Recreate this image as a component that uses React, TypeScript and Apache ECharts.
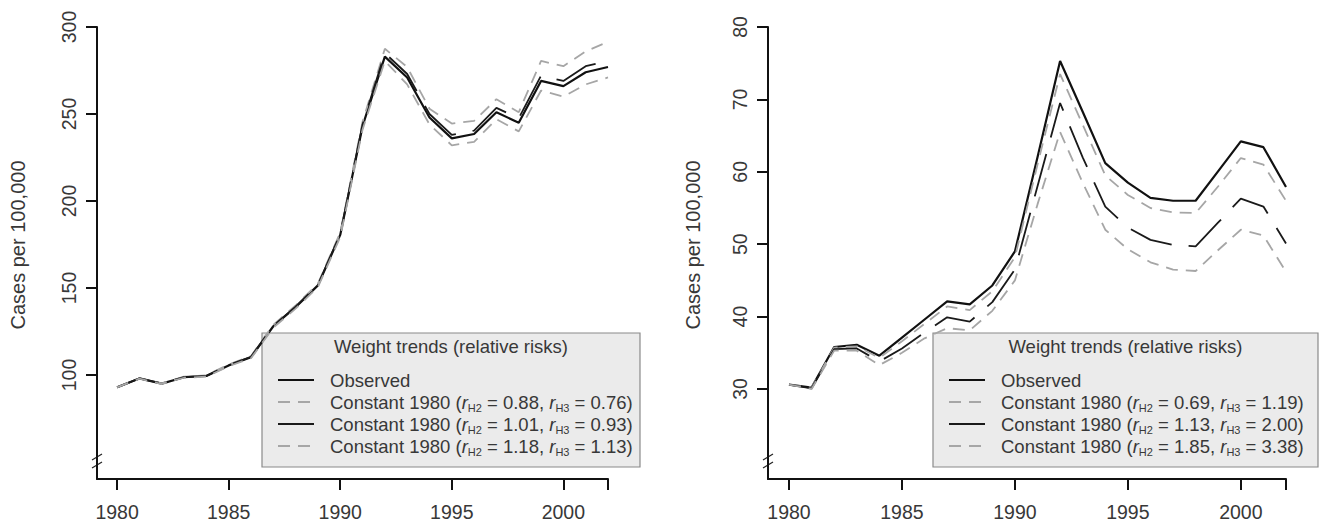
import React, { useEffect, useRef } from "react";
import * as echarts from "echarts";

const years = [1980, 1981, 1982, 1983, 1984, 1985, 1986, 1987, 1988, 1989, 1990, 1991, 1992, 1993, 1994, 1995, 1996, 1997, 1998, 1999, 2000, 2001, 2002];

// Left panel
const observedA = [92.9, 98.0, 95.0, 98.7, 99.4, 105.5, 110.2, 128.0, 139.0, 151.5, 180.5, 243.0, 283.0, 271.0, 248.0, 236.0, 238.5, 251.0, 245.0, 269.0, 266.0, 274.0, 277.0];
const constA1 = [92.9, 98.1, 95.2, 99.0, 99.8, 106.0, 110.8, 128.8, 139.9, 152.5, 181.8, 245.5, 287.5, 277.0, 253.0, 244.5, 246.0, 258.5, 251.0, 280.5, 277.5, 286.0, 291.5];
const constA2 = [92.9, 98.0, 95.1, 98.8, 99.5, 105.7, 110.4, 128.3, 139.3, 151.9, 181.0, 244.0, 285.0, 273.0, 250.0, 238.0, 240.5, 253.5, 247.5, 272.0, 269.0, 277.5, 280.5];
const constA3 = [92.9, 97.9, 94.8, 98.4, 99.0, 105.0, 109.6, 127.2, 138.1, 150.5, 179.2, 241.0, 280.5, 267.0, 244.0, 232.0, 234.0, 247.0, 240.0, 263.5, 260.0, 267.0, 271.0];

// Right panel
const observedB = [30.6, 30.2, 35.8, 36.1, 34.6, 37.1, 39.6, 42.1, 41.7, 44.3, 49.0, 62.0, 75.3, 68.3, 61.2, 58.5, 56.4, 56.0, 56.0, 60.1, 64.2, 63.4, 57.9];
const constB1 = [30.6, 30.2, 35.7, 35.9, 34.3, 36.6, 39.0, 41.4, 40.9, 43.5, 48.2, 61.0, 73.5, 66.5, 59.5, 56.8, 55.0, 54.4, 54.3, 58.0, 61.9, 61.0, 56.0];
const constB2 = [30.6, 30.1, 35.5, 35.6, 33.8, 35.6, 37.8, 39.9, 39.3, 42.0, 46.5, 58.0, 69.5, 62.0, 55.2, 52.3, 50.6, 49.9, 49.7, 53.0, 56.3, 55.2, 50.1];
const constB3 = [30.6, 30.0, 35.3, 35.3, 33.3, 35.0, 37.0, 38.4, 38.1, 40.8, 45.0, 55.5, 65.5, 58.5, 52.0, 49.3, 47.5, 46.5, 46.3, 49.2, 52.0, 51.2, 46.2];

const risksA = [["0.88", "0.76"], ["1.01", "0.93"], ["1.18", "1.13"]];
const risksB = [["0.69", "1.19"], ["1.13", "2.00"], ["1.85", "3.38"]];

const xTicks = [1980, 1985, 1990, 1995, 2000, 2002];
const xLabels = [1980, 1985, 1990, 1995, 2000];
const yTicksA = [100, 150, 200, 250, 300];
const yTicksB = [30, 40, 50, 60, 70, 80];

const legendTitle = "Weight trends (relative risks)";
const yName = "Cases per 100,000";

const FONT = "'Liberation Sans', Arial, Helvetica, sans-serif";
const GRAY = "#a6a6a6";
const TXT = "#383838";
const lineStyles = [
  { color: "#111111", width: 2.2, type: "solid" as any },
  { color: GRAY, width: 1.8, type: [12, 8] as any },
  { color: "#1a1a1a", width: 1.8, type: [44, 17] as any },
  { color: GRAY, width: 1.8, type: [12, 8] as any },
];

function pairs(vals: number[]) {
  return years.map((y, i) => [y, vals[i]]);
}

function entryText(r: string[]) {
  return `{t|Constant 1980 (}{i|r}{s|H2}{t| = ${r[0]}, }{i|r}{s|H3}{t| = ${r[1]})}`;
}

function legendGroup(boxX: number, boxW: number, risks: string[][]) {
  const boxY = 333;
  const boxH = 134;
  const children: any[] = [
    {
      type: "rect",
      shape: { x: boxX, y: boxY, width: boxW, height: boxH },
      style: { fill: "#ebebeb", stroke: "#8a8a8a", lineWidth: 1.2 },
    },
    {
      type: "text",
      x: boxX + boxW / 2,
      y: 346,
      style: {
        text: legendTitle,
        fontSize: 18.5,
        fontFamily: FONT,
        fill: TXT,
        align: "center",
        verticalAlign: "middle",
      },
    },
  ];
  const labels = ["{t|Observed}", ...risks.map(entryText)];
  labels.forEach((lab, i) => {
    const y = 380 + i * 22;
    const ls = lineStyles[i];
    children.push({
      type: "line",
      shape: { x1: boxX + 16, y1: y, x2: boxX + 52, y2: y },
      style: {
        stroke: ls.color,
        lineWidth: ls.width,
        lineDash: Array.isArray(ls.type) ? ls.type : null,
      },
    });
    children.push({
      type: "text",
      x: boxX + 68,
      y: y,
      style: {
        text: lab,
        fontFamily: FONT,
        fill: TXT,
        align: "left",
        verticalAlign: "middle",
        rich: {
          t: { fontSize: 18.5, fontFamily: FONT, fill: TXT, lineHeight: 22 },
          i: { fontSize: 18.5, fontFamily: FONT, fill: TXT, fontStyle: "italic", lineHeight: 22 },
          s: { fontSize: 11, fontFamily: FONT, fill: TXT, lineHeight: 13, verticalAlign: "bottom" },
        },
      },
    });
  });
  return { type: "group", z: 100, children };
}

function axisBreak(x: number) {
  return {
    type: "group",
    z: 100,
    children: [
      { type: "rect", shape: { x: x - 6, y: 457, width: 12, height: 8 }, style: { fill: "#fff" } },
      { type: "line", shape: { x1: x - 5, y1: 460, x2: x + 5, y2: 454 }, style: { stroke: "#222", lineWidth: 1.2 } },
      { type: "line", shape: { x1: x - 5, y1: 468, x2: x + 5, y2: 462 }, style: { stroke: "#222", lineWidth: 1.2 } },
    ],
  };
}

function makeX(gridIndex: number, min: number) {
  return {
    type: "value",
    gridIndex,
    min,
    max: 2002,
    axisLine: { show: true, onZero: false, lineStyle: { color: "#111", width: 2 } },
    axisTick: { show: true, length: 11, customValues: xTicks, lineStyle: { color: "#111", width: 2 } },
    axisLabel: { customValues: xLabels, fontSize: 19.5, fontFamily: FONT, color: TXT, margin: 23, formatter: (v: number) => String(v) },
    splitLine: { show: false },
  };
}

function makeY(gridIndex: number, min: number, max: number, ticks: number[], nameGap: number) {
  return {
    type: "value",
    gridIndex,
    min,
    max,
    name: yName,
    nameLocation: "middle",
    nameGap,
    nameTextStyle: { fontSize: 20, fontFamily: FONT, color: TXT, padding: [0, 0, 0, 16] },
    axisLine: { show: true, onZero: false, lineStyle: { color: "#111", width: 2 } },
    axisTick: { show: true, length: 11, customValues: ticks, lineStyle: { color: "#111", width: 2 } },
    axisLabel: { customValues: ticks, rotate: 90, fontSize: 19.5, fontFamily: FONT, color: TXT, margin: 18 },
    splitLine: { show: false },
  };
}

function lineSeries(vals: number[], idx: number, style: number) {
  const ls = lineStyles[style];
  return {
    type: "line",
    xAxisIndex: idx,
    yAxisIndex: idx,
    data: pairs(vals),
    showSymbol: false,
    symbol: "none",
    lineStyle: { color: ls.color, width: ls.width, type: ls.type },
    itemStyle: { color: ls.color },
    z: 2 + style,
  };
}

export default function App() {
  const ref = useRef<HTMLDivElement>(null);
  useEffect(() => {
    if (!ref.current) return;
    const chart = echarts.init(ref.current, null, { renderer: "svg" });
    chart.setOption({
      animation: false,
      backgroundColor: "#ffffff",
      grid: [
        { left: 97, top: 27, width: 511, height: 452 },
        { left: 768, top: 27, width: 518, height: 452 },
      ],
      xAxis: [makeX(0, 1979.1), makeX(1, 1979.07)],
      yAxis: [makeY(0, 40.2, 300, yTicksA, 69), makeY(1, 17.57, 80, yTicksB, 65)],
      series: [
        lineSeries(constA3, 0, 3),
        lineSeries(constA1, 0, 1),
        lineSeries(constA2, 0, 2),
        lineSeries(observedA, 0, 0),
        lineSeries(constB3, 1, 3),
        lineSeries(constB1, 1, 1),
        lineSeries(constB2, 1, 2),
        lineSeries(observedB, 1, 0),
      ],
      graphic: [
        axisBreak(97),
        axisBreak(768),
        legendGroup(262, 378, risksA),
        legendGroup(933, 385, risksB),
      ],
    });
    return () => chart.dispose();
  }, []);
  return <div ref={ref} style={{ position: "fixed", left: 0, top: 0, width: 1329, height: 529 }} />;
}
